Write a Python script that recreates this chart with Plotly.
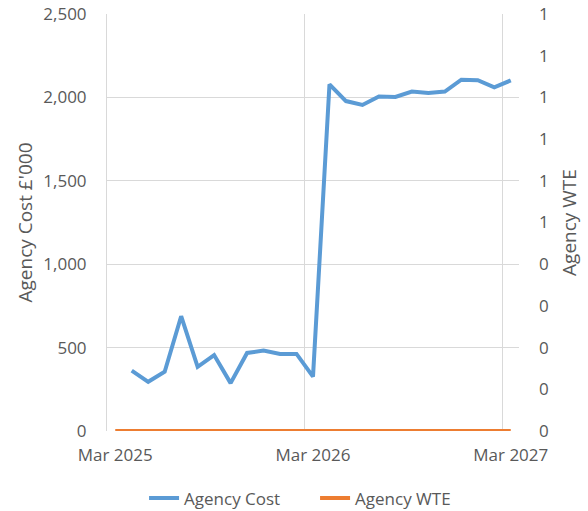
import plotly.graph_objects as go

months = ["Mar 2025", "Apr 2025", "May 2025", "Jun 2025", "Jul 2025", "Aug 2025",
          "Sep 2025", "Oct 2025", "Nov 2025", "Dec 2025", "Jan 2026", "Feb 2026",
          "Mar 2026", "Apr 2026", "May 2026", "Jun 2026", "Jul 2026", "Aug 2026",
          "Sep 2026", "Oct 2026", "Nov 2026", "Dec 2026", "Jan 2027", "Feb 2027",
          "Mar 2027"]
agency_cost = [None, 362, 295, 355, 688, 385, 455, 287, 468, 482, 462, 462, 326,
               2078, 1978, 1955, 2005, 2003, 2035, 2027, 2035, 2106, 2103, 2060, 2102]
agency_wte = [0] * 25

x_tick_labels = ["Mar 2025", "Mar 2026", "Mar 2027"]
left_ticks = [0, 500, 1000, 1500, 2000, 2500]
right_tickvals = [i / 10 for i in range(11)]
right_ticktext = ["0", "0", "0", "0", "0", "1", "1", "1", "1", "1", "1"]

idx = list(range(len(months)))
tick_pos = [months.index(m) for m in x_tick_labels]
grid_pos = [p - 0.5 for p in tick_pos]

FONT = "Open Sans"
TXT = "#595959"
GRID = "#D9D9D9"

fig = go.Figure()
fig.add_trace(go.Scatter(x=idx, y=agency_cost, name="Agency Cost", mode="lines",
                         line=dict(color="#5B9BD5", width=4), yaxis="y",
                         connectgaps=False))
fig.add_trace(go.Scatter(x=idx, y=agency_wte, name="Agency WTE", mode="lines",
                         line=dict(color="#ED7D31", width=4), yaxis="y2"))

fig.update_layout(
    width=588, height=511,
    margin=dict(l=107, r=69, t=14, b=80, autoexpand=False),
    paper_bgcolor="white", plot_bgcolor="white",
    font=dict(family=FONT, size=17, color=TXT),
    showlegend=True,
    legend=dict(orientation="h", x=0.505, xanchor="center",
                yref="container", y=0.06, yanchor="top",
                entrywidth=126, entrywidthmode="pixels",
                font=dict(size=17, color=TXT), traceorder="normal"),
    xaxis=dict(range=[-0.5, len(months) - 0.5], tickmode="array", tickvals=tick_pos,
               ticktext=x_tick_labels, showgrid=False, zeroline=False, showline=False,
               ticks="", ticklabelstandoff=12, automargin=False,
               tickfont=dict(size=17, color=TXT),
               minor=dict(tickmode="array", tickvals=grid_pos, showgrid=True,
                          gridcolor=GRID, gridwidth=1, ticks="")),
    yaxis=dict(range=[0, 2500], tickmode="array", tickvals=left_ticks,
               tickformat=",d", showgrid=True, gridcolor=GRID, gridwidth=1,
               zeroline=False, showline=True, linecolor=GRID, linewidth=1,
               ticks="", ticklabelstandoff=16, automargin=False,
               tickfont=dict(size=17, color=TXT),
               title=dict(text="Agency Cost £'000", standoff=5,
                          font=dict(size=19, color=TXT))),
    yaxis2=dict(range=[0, 1], overlaying="y", side="right", tickmode="array",
                tickvals=right_tickvals, ticktext=right_ticktext, showgrid=False,
                zeroline=False, showline=False, ticks="", ticklabelstandoff=19,
                automargin=False, tickfont=dict(size=17, color=TXT),
                title=dict(text="Agency WTE", standoff=14,
                           font=dict(size=19, color=TXT))),
)

fig.write_html("out.html", config={"displayModeBar": False},
               post_script="document.body.style.margin='0';")
